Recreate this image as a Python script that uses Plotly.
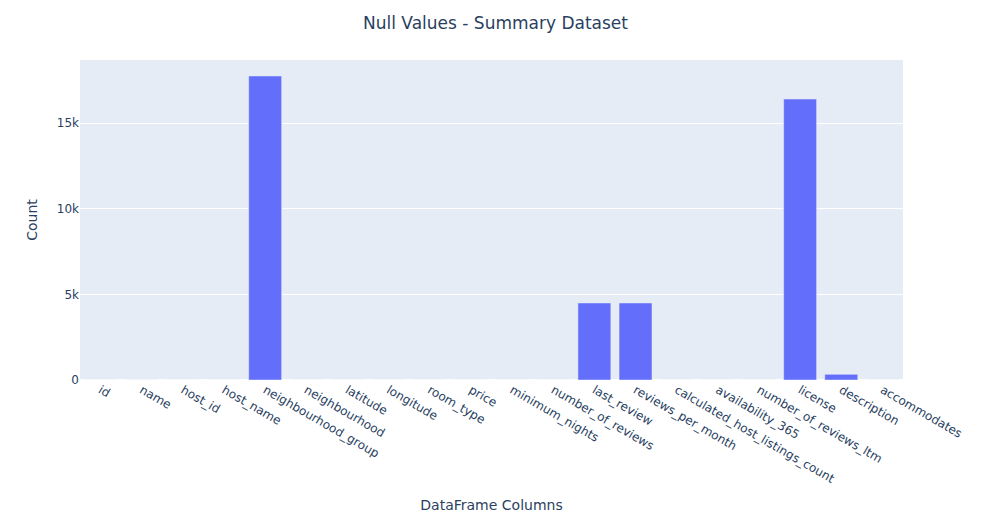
import plotly.graph_objects as go

columns = ["id", "name", "host_id", "host_name", "neighbourhood_group", "neighbourhood",
           "latitude", "longitude", "room_type", "price", "minimum_nights",
           "number_of_reviews", "last_review", "reviews_per_month",
           "calculated_host_listings_count", "availability_365",
           "number_of_reviews_ltm", "license", "description", "accommodates"]
null_counts = [0, 2, 0, 0, 17745, 0, 0, 0, 0, 0, 0, 0, 4495, 4495, 0, 0, 0, 16400, 330, 0]

W, H = 975, 517
fig = go.Figure(go.Bar(x=columns, y=null_counts))
fig.update_layout(
    title=dict(text="Null Values - Summary Dataset", x=0.5, xanchor="center",
               y=1 - 15 / H, yanchor="middle"),
    xaxis_title="DataFrame Columns",
    yaxis_title="Count",
    width=W, height=H,
    margin=dict(l=72, r=80, t=52, b=145),
    template="plotly",
    font=dict(family="Verdana, DejaVu Sans, sans-serif"),
)
fig.update_xaxes(tickangle=30, automargin=False)
fig.update_yaxes(automargin=False)
fig.write_html("out.html")
